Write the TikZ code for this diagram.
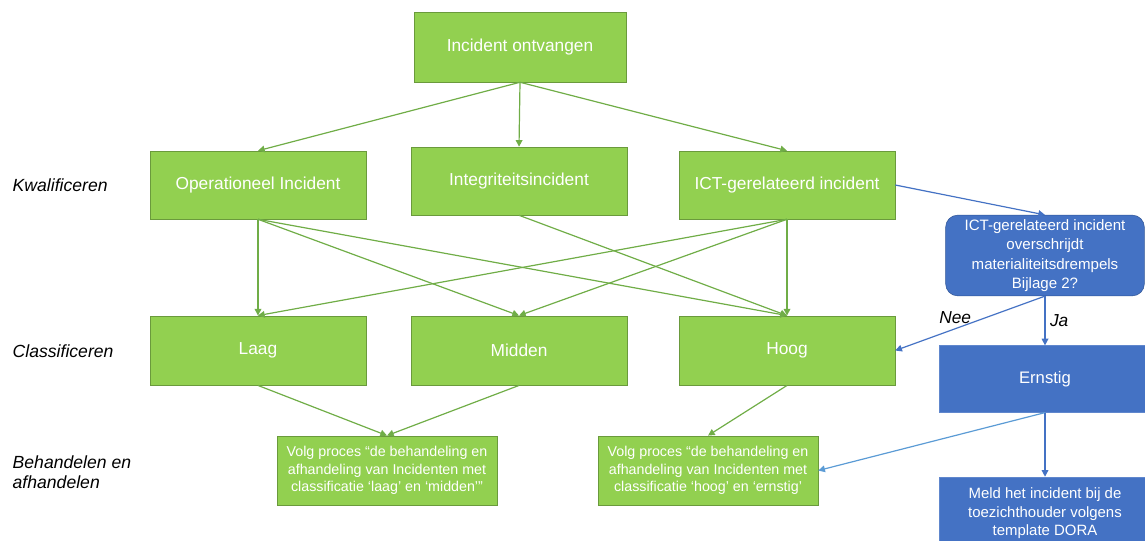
\documentclass[tikz,border=0pt]{standalone}
\usepackage{fontspec}
\setmainfont{Liberation Sans}
\usetikzlibrary{arrows.meta}
\definecolor{boxgreen}{HTML}{92D050}
\definecolor{edgegreen}{HTML}{6A9A3C}
\definecolor{linegreen}{HTML}{70AD47}
\definecolor{boxblue}{HTML}{4472C4}
\definecolor{edgeblue}{HTML}{2F5597}
\definecolor{lightblue}{HTML}{5B9BD5}
\begin{document}
\begin{tikzpicture}[x=.75pt,y=-.75pt,
  greenbox/.style={draw=edgegreen,fill=boxgreen,text=white,inner sep=0pt,
    minimum width=162pt,minimum height=51pt,font=\fontsize{13}{15}\selectfont},
  procbox/.style={greenbox,minimum width=165pt,minimum height=52pt,align=center,
    font=\fontsize{10.7}{13}\selectfont},
  bluebox/.style={draw=boxblue!85!white,fill=boxblue,text=white,inner sep=0pt,
    minimum width=159pt,minimum height=50pt,align=center,font=\fontsize{12.5}{14}\selectfont},
  rowlabel/.style={anchor=west,align=left,font=\fontsize{13.2}{15}\selectfont\itshape},
  garrow/.style={draw=linegreen,line width=.9pt,-{Triangle[length=5pt,width=5pt]}},
  barrow/.style={draw=boxblue,line width=.9pt,-{Triangle[length=5pt,width=5pt]}}]
  \useasboundingbox (0,0) rectangle (1145,540);
  % rijen
  \node[rowlabel] (lkwal) at (8,185) {Kwalificeren};
  \node[rowlabel] (lclass) at (8,351) {Classificeren};
  \node[rowlabel] (lbeh) at (8,472) {Behandelen en\\afhandelen};
  % groene boxen
  \node[greenbox,minimum width=159pt,minimum height=52.5pt] (ontv) at (520,47) {Incident ontvangen};
  \node[greenbox] (oper) at (258,185) {Operationeel Incident};
  \node[greenbox] (integ) at (519,181) {Integriteitsincident};
  \node[greenbox] (ict) at (787,185) {ICT-gerelateerd incident};
  \node[greenbox,minimum height=52pt] (laag) at (258,350.5) {Laag};
  \node[greenbox,minimum height=52pt] (midden) at (519,350.5) {Midden};
  \node[greenbox,minimum height=52pt] (hoog) at (787,350.5) {Hoog};
  \node[procbox] (procA) at (387,470.5) {Volg proces “de behandeling en\\afhandeling van Incidenten met\\classificatie ‘laag’ en ‘midden’”};
  \node[procbox] (procB) at (708,470.5) {Volg proces “de behandeling en\\afhandeling van Incidenten met\\classificatie ‘hoog’ en ‘ernstig’};
  % blauwe boxen
  \node[bluebox,draw=edgeblue,rounded corners=9pt,minimum width=149pt,minimum height=60.5pt,
    font=\fontsize{11.3}{14.5}\selectfont] (drempel) at (1045,255.5)
    {ICT-gerelateerd incident\\overschrijdt\\materialiteitsdrempels\\Bijlage 2?};
  \node[bluebox] (ernstig) at (1045,379) {Ernstig};
  \node[bluebox,font=\fontsize{11.2}{14}\selectfont,text depth=2pt,minimum height=54pt] (meld) at (1045,513)
    {Meld het incident bij de\\toezichthouder volgens\\template DORA};
  % pijlen
  \draw[garrow] (ontv.south) -- (oper.north);
  \draw[garrow] (ontv.south) -- (integ.north);
  \draw[garrow] (ontv.south) -- (ict.north);
  \foreach \t in {laag,midden,hoog}
    \draw[garrow] (oper.south) -- (\t.north);
  \draw[garrow] (integ.south) -- (hoog.north);
  \foreach \t in {laag,midden,hoog}
    \draw[garrow] (ict.south) -- (\t.north);
  \draw[garrow] (laag.south) -- (procA.north);
  \draw[garrow] (midden.south) -- (procA.north);
  \draw[garrow] (hoog.south) -- (procB.north);
  \draw[barrow] (ict.east) -- (drempel.north);
  \draw[barrow] (drempel.south) -- node[pos=.6,above,font=\fontsize{13}{15}\selectfont\itshape] {Nee} (hoog.east);
  \draw[barrow] (drempel.south) -- node[right,font=\fontsize{13}{15}\selectfont\itshape] {Ja} (ernstig.north);
  \draw[barrow,draw=lightblue] (ernstig.south) -- (procB.east);
  \draw[barrow] (ernstig.south) -- (meld.north);
\end{tikzpicture}
\end{document}
